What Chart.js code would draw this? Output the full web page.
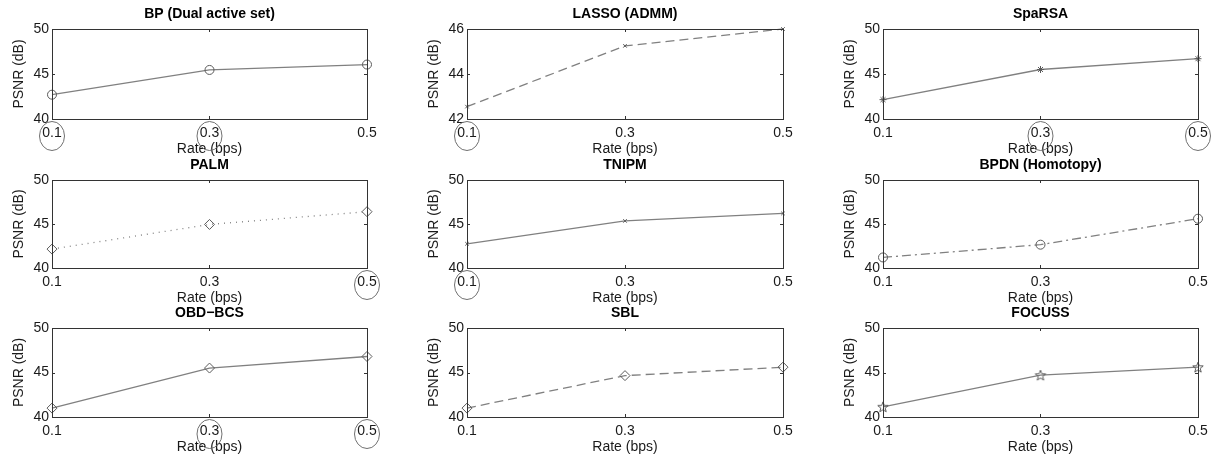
<!DOCTYPE html>
<html>
<head>
<meta charset="utf-8">
<script src="https://cdn.jsdelivr.net/npm/chart.js@4.4.0/dist/chart.umd.min.js"></script>
<style>
  html, body { margin: 0; padding: 0; background: #fff; overflow: hidden; }
  #wrap { position: relative; width: 1226px; height: 463px; }
  #wrap canvas { position: absolute; }
</style>
</head>
<body>
<div id="wrap"></div>
<script>
// Coding rates (bps) and PSNR (dB) reached by each solver
const rates = [0.1, 0.3, 0.5];
const xTicks = [0.1, 0.3, 0.5];
const yTicksWide = [40, 45, 50];
const yTicksLasso = [42, 44, 46];

const psnrBP = [42.7, 45.45, 46.05];
const psnrLasso = [42.55, 45.25, 46.0];
const psnrSpaRSA = [42.15, 45.5, 46.7];
const psnrPALM = [42.15, 44.95, 46.4];
const psnrTNIPM = [42.75, 45.35, 46.2];
const psnrBPDN = [41.2, 42.65, 45.6];
const psnrOBD = [41.0, 45.5, 46.8];
const psnrSBL = [41.0, 44.65, 45.6];
const psnrFOCUSS = [41.15, 44.7, 45.6];

// rate labels ringed under each panel
const ringBP = [0.1, 0.3];
const ringLasso = [0.1];
const ringSpaRSA = [0.3, 0.5];
const ringPALM = [0.5];
const ringTNIPM = [0.1];
const ringOBD = [0.3, 0.5];

const FONT = "'Liberation Sans', Arial, Helvetica, sans-serif";
const LINE = '#808080';
const MARK = '#5a5a5a';
const AXIS = '#333';
const TEXT = '#1a1a1a';

// plot-box geometry of the 3x3 grid
const colLeft = [52, 467, 883];
const colWidth = [315, 316, 315];
const rowTop = [29, 180, 328];
const rowHeight = [90, 88, 89];
const AXIS_W = 50, TOP_H = 29, BOTTOM_H = 40, PAD_R = 20;

// five-pointed star marker (no built-in pentagram in Chart.js)
function pentagram(r) {
    const s = Math.ceil(r * 2 + 3);
    const c = document.createElement('canvas');
    c.width = c.height = s;
    const g = c.getContext('2d');
    g.strokeStyle = MARK;
    g.lineWidth = 1;
    g.beginPath();
    for (let i = 0; i < 10; i++) {
        const rr = i % 2 ? r * 0.42 : r;
        const a = -Math.PI / 2 + i * Math.PI / 5;
        const px = s / 2 + rr * Math.cos(a), py = s / 2 + 0.5 + rr * Math.sin(a);
        if (i === 0) g.moveTo(px, py); else g.lineTo(px, py);
    }
    g.closePath();
    g.stroke();
    return c;
}

const panels = [
    { title: 'BP (Dual active set)', values: psnrBP, yTicks: yTicksWide, dash: [], marker: 'circle', radius: 4.5, rings: ringBP },
    { title: 'LASSO (ADMM)', values: psnrLasso, yTicks: yTicksLasso, dash: [9, 5], marker: 'crossRot', radius: 2.5, rings: ringLasso },
    { title: 'SpaRSA', values: psnrSpaRSA, yTicks: yTicksWide, dash: [], marker: 'star', radius: 3.5, rings: ringSpaRSA },
    { title: 'PALM', values: psnrPALM, yTicks: yTicksWide, dash: [1, 5], marker: 'rectRot', radius: 5, rings: ringPALM },
    { title: 'TNIPM', values: psnrTNIPM, yTicks: yTicksWide, dash: [], marker: 'crossRot', radius: 2.5, rings: ringTNIPM },
    { title: 'BPDN (Homotopy)', values: psnrBPDN, yTicks: yTicksWide, dash: [9, 4, 2, 4], marker: 'circle', radius: 4.5, rings: [] },
    { title: 'OBD\u2212BCS', values: psnrOBD, yTicks: yTicksWide, dash: [], marker: 'rectRot', radius: 5, rings: ringOBD },
    { title: 'SBL', values: psnrSBL, yTicks: yTicksWide, dash: [9, 5], marker: 'rectRot', radius: 5, rings: [] },
    { title: 'FOCUSS', values: psnrFOCUSS, yTicks: yTicksWide, dash: [], marker: pentagram(5.5), radius: 5, rings: [] }
];

// box, inward tick marks and ringed labels, MATLAB style
const framePlugin = {
    id: 'frame',
    afterDraw(chart, args, opts) {
        const { ctx, chartArea: a, scales: { x, y } } = chart;
        ctx.save();
        ctx.strokeStyle = AXIS;
        ctx.lineWidth = 1;
        ctx.strokeRect(Math.round(a.left) + 0.5, Math.round(a.top) + 0.5,
            Math.round(a.right - a.left), Math.round(a.bottom - a.top));
        ctx.beginPath();
        x.ticks.forEach(t => {
            const px = Math.round(x.getPixelForValue(t.value)) + 0.5;
            ctx.moveTo(px, a.bottom); ctx.lineTo(px, a.bottom - 3);
            ctx.moveTo(px, a.top); ctx.lineTo(px, a.top + 3);
        });
        y.ticks.forEach(t => {
            const py = Math.round(y.getPixelForValue(t.value)) + 0.5;
            ctx.moveTo(a.left, py); ctx.lineTo(a.left + 3, py);
            ctx.moveTo(a.right, py); ctx.lineTo(a.right - 3, py);
        });
        ctx.stroke();
        ctx.strokeStyle = '#707070';
        (opts.rings || []).forEach(v => {
            ctx.beginPath();
            ctx.ellipse(x.getPixelForValue(v), a.bottom + 17, 12.5, 14.5, 0, 0, Math.PI * 2);
            ctx.stroke();
        });
        ctx.restore();
    }
};

Chart.defaults.font.family = FONT;
Chart.defaults.color = TEXT;

const wrap = document.getElementById('wrap');

panels.forEach((p, i) => {
    const col = i % 3, row = Math.floor(i / 3);
    const canvas = document.createElement('canvas');
    canvas.width = AXIS_W + colWidth[col] + PAD_R;
    canvas.height = TOP_H + rowHeight[row] + BOTTOM_H;
    canvas.style.left = (colLeft[col] - AXIS_W) + 'px';
    canvas.style.top = (rowTop[row] - TOP_H) + 'px';
    wrap.appendChild(canvas);

    const yt = p.yTicks;
    new Chart(canvas.getContext('2d'), {
        type: 'scatter',
        data: {
            datasets: [{
                data: rates.map((r, k) => ({ x: r, y: p.values[k] })),
                showLine: true,
                borderColor: LINE,
                borderWidth: 1.3,
                borderDash: p.dash,
                pointStyle: p.marker,
                pointRadius: p.radius,
                pointBorderColor: MARK,
                pointBackgroundColor: 'rgba(0,0,0,0)',
                pointBorderWidth: 1,
                clip: false
            }]
        },
        options: {
            responsive: false,
            devicePixelRatio: 1,
            animation: false,
            layout: { padding: { left: 0, right: PAD_R, top: 0, bottom: 0 } },
            plugins: {
                legend: { display: false },
                tooltip: { enabled: false },
                title: {
                    display: true,
                    text: p.title,
                    fullSize: false,
                    color: '#000',
                    font: { size: 14, weight: 'bold', lineHeight: 1.2 },
                    padding: { top: 6, bottom: 6.2 }
                },
                frame: { rings: p.rings }
            },
            scales: {
                x: {
                    type: 'linear',
                    min: xTicks[0],
                    max: xTicks[xTicks.length - 1],
                    grid: { display: false, drawTicks: false },
                    border: { display: false },
                    afterBuildTicks: s => { s.ticks = xTicks.map(v => ({ value: v })); },
                    afterFit: s => { s.height = BOTTOM_H; },
                    ticks: {
                        padding: 5.6,
                        maxRotation: 0,
                        font: { size: 14, lineHeight: 1.2 },
                        callback: v => v.toFixed(1)
                    },
                    title: {
                        display: true,
                        text: 'Rate (bps)',
                        font: { size: 14, lineHeight: 1.2 },
                        padding: { top: 0, bottom: 1 }
                    }
                },
                y: {
                    min: yt[0],
                    max: yt[yt.length - 1],
                    grid: { display: false, drawTicks: false },
                    border: { display: false },
                    afterBuildTicks: s => { s.ticks = yt.map(v => ({ value: v })); },
                    afterFit: s => { s.width = AXIS_W; },
                    ticks: {
                        padding: 3,
                        font: { size: 14, lineHeight: 1.2 },
                        callback: v => String(v)
                    },
                    title: {
                        display: true,
                        text: 'PSNR (dB)',
                        font: { size: 14, lineHeight: 1.2 },
                        padding: { top: 9, bottom: 0 }
                    }
                }
            }
        },
        plugins: [framePlugin]
    });
});
</script>
</body>
</html>
